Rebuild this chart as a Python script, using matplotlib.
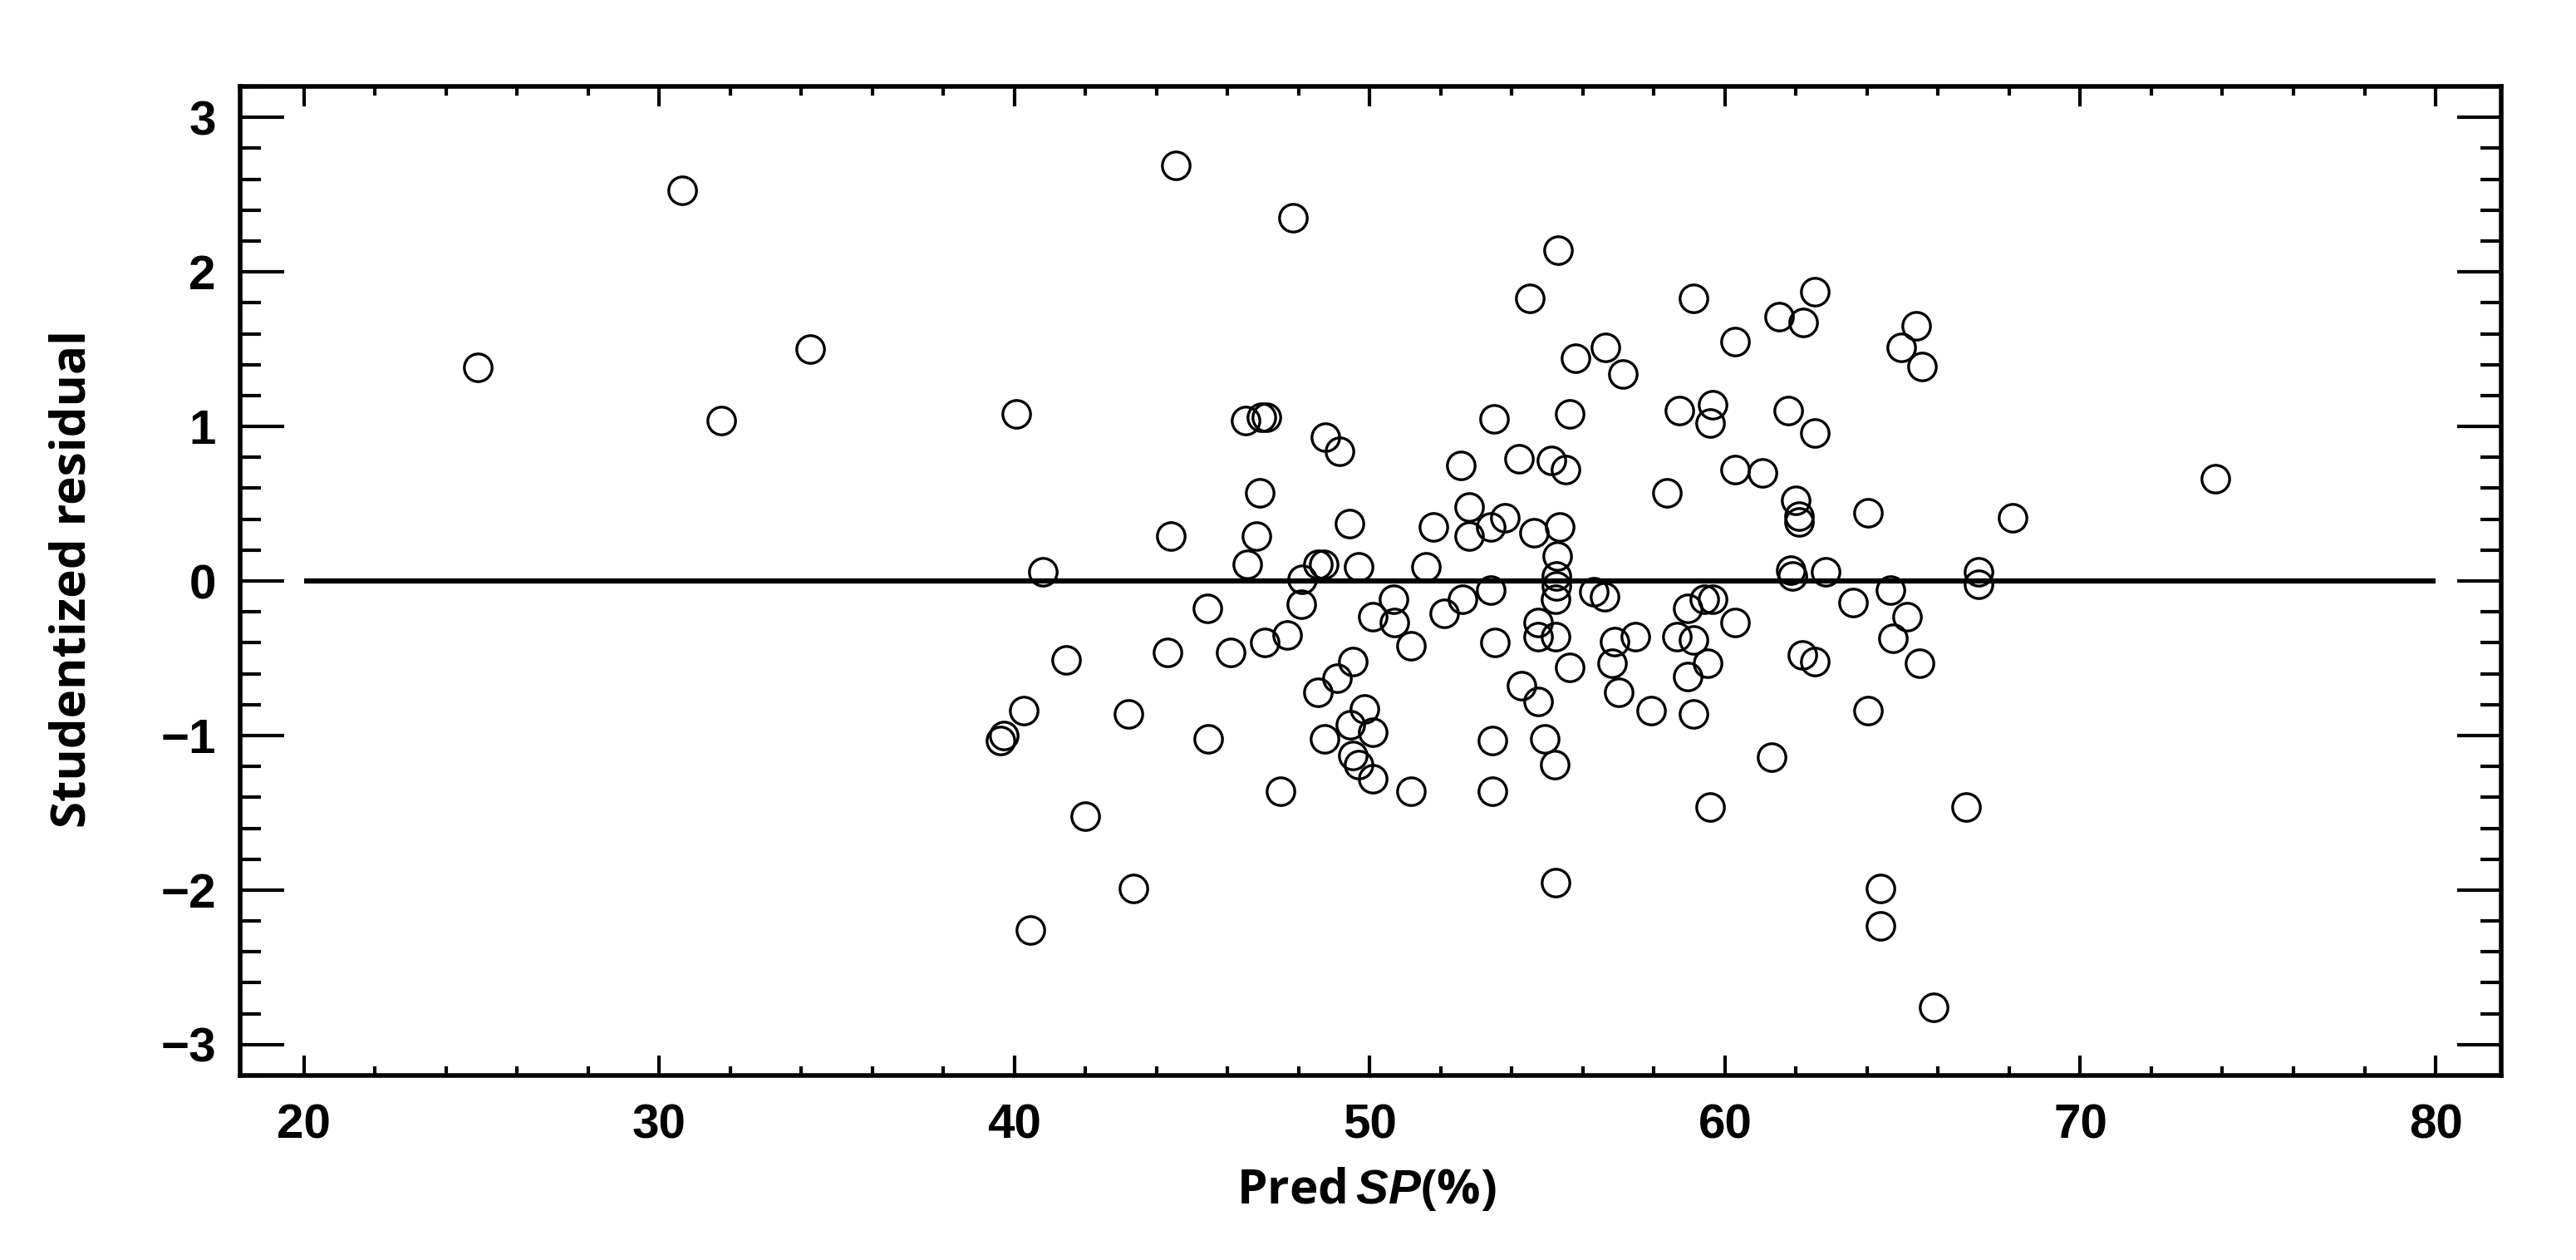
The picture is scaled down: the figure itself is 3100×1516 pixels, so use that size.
import matplotlib
matplotlib.use("Agg")  # pas d'affichage, on sauve seulement le fichier
import matplotlib.pyplot as plt
from matplotlib.ticker import MultipleLocator

# Valeurs : SP prédit (%) et résidu studentisé
pred_sp = [24.9, 30.65, 31.75, 34.25,
           39.6, 39.7, 40.05, 40.25, 40.45, 40.8, 41.45, 42.0, 43.2, 43.35,
           44.3, 44.4, 44.55, 45.42, 45.46, 46.08, 46.5, 46.55, 46.82, 46.9,
           46.95, 47.1, 47.05, 47.48, 47.67, 47.83, 48.06, 48.1, 48.55, 48.7,
           48.53, 48.72, 48.76, 49.07, 49.15, 49.42, 49.46, 49.53, 49.53, 49.69,
           49.69, 49.84, 50.08, 50.08, 50.08, 50.66, 50.7, 51.16, 51.16, 51.59,
           51.78, 52.09, 52.56, 52.6, 52.79, 52.79, 53.41, 53.41, 53.45, 53.45,
           53.49, 53.53, 53.8, 54.19, 54.27, 54.5, 54.62, 54.73, 54.73, 54.73,
           54.93, 55.12, 55.2, 55.24, 55.24, 55.24, 55.25, 55.25, 55.27, 55.31,
           55.35, 55.51, 55.62, 55.62, 55.8,
           56.3, 56.6, 56.63, 56.82, 56.9, 57.01, 57.13, 57.48, 57.91, 58.37,
           58.64, 58.72, 58.95, 58.95, 59.11, 59.11, 59.11, 59.42, 59.5, 59.57,
           59.57, 59.65, 59.65, 60.27, 60.27, 60.27, 61.05, 61.32, 61.51, 61.78,
           61.85, 61.9, 61.98, 62.09, 62.09, 62.17, 62.21, 62.52, 62.52, 62.52,
           62.83, 63.61, 64.03, 64.03, 64.37, 64.37, 64.65, 64.73, 64.96, 65.12,
           65.39, 65.47, 65.55, 65.88, 66.79, 67.14, 67.14, 68.09, 73.81]
residu = [1.38, 2.53, 1.04, 1.50,
          -1.03, -1.0, 1.08, -0.84, -2.26, 0.06, -0.51, -1.52, -0.86, -1.99,
          -0.46, 0.29, 2.69, -0.18, -1.02, -0.46, 1.04, 0.11, 0.29, 0.57,
          1.06, 1.06, -0.40, -1.36, -0.35, 2.35, -0.15, 0.01, 0.11, 0.11,
          -0.72, -1.02, 0.93, -0.63, 0.84, 0.37, -0.93, -0.52, -1.13, -1.19,
          0.09, -0.83, -0.23, -0.98, -1.28, -0.12, -0.27, -0.42, -1.36, 0.09,
          0.35, -0.21, 0.75, -0.12, 0.48, 0.29, 0.35, -0.06, -1.03, -1.36,
          1.05, -0.40, 0.41, 0.79, -0.68, 1.83, 0.31, -0.27, -0.36, -0.78,
          -1.02, 0.78, -1.19, -0.12, -0.36, -1.95, 0.03, -0.03, 0.16, 2.14,
          0.35, 0.72, 1.08, -0.56, 1.44,
          -0.07, -0.10, 1.51, -0.53, -0.39, -0.72, 1.34, -0.36, -0.84, 0.57,
          -0.36, 1.10, -0.18, -0.62, 1.83, -0.38, -0.86, -0.12, -0.53, 1.02,
          -1.46, 1.14, -0.12, 1.55, 0.72, -0.27, 0.70, -1.14, 1.71, 1.10,
          0.07, 0.03, 0.52, 0.42, 0.38, -0.48, 1.67, 1.87, 0.96, -0.52,
          0.06, -0.14, 0.44, -0.84, -1.99, -2.23, -0.06, -0.37, 1.51, -0.23,
          1.65, -0.53, 1.39, -2.76, -1.46, 0.06, -0.02, 0.41, 0.66]

# Graduations et ligne de référence (résidu nul entre 20 et 80)
x_ticks = [20, 30, 40, 50, 60, 70, 80]
y_ticks = [-3, -2, -1, 0, 1, 2, 3]
ligne_x = [20, 80]

plt.rcParams['mathtext.fontset'] = 'custom'
plt.rcParams['mathtext.it'] = 'Liberation Sans:italic:bold'

fig = plt.figure(figsize=(31, 15.16), dpi=100)
ax = fig.add_axes([0.0932, 0.1464, 0.8778, 0.785])

# Ligne horizontale à zéro puis les cercles vides
ax.hlines(0, ligne_x[0], ligne_x[1], color='black', lw=4.5, zorder=1)
ax.plot(pred_sp, residu, 'o', mfc='none', mec='black', ms=24, mew=2.4,
        linestyle='none', zorder=2)

ax.set_xlim(18.2, 81.85)
ax.set_ylim(-3.2, 3.2)
ax.set_xticks(x_ticks)
ax.set_yticks(y_ticks)
ax.xaxis.set_minor_locator(MultipleLocator(2))
ax.yaxis.set_minor_locator(MultipleLocator(0.2))

# Graduations tournées vers l'intérieur, sur les quatre côtés
ax.tick_params(axis='x', which='major', direction='in', length=17, width=3,
               top=True, bottom=True, pad=24, labelsize=42)
ax.tick_params(axis='x', which='minor', direction='in', length=8, width=3,
               top=True, bottom=True)
ax.tick_params(axis='y', which='major', direction='in', length=38, width=3,
               left=True, right=True, pad=21, labelsize=42)
ax.tick_params(axis='y', which='minor', direction='in', length=18, width=3,
               left=True, right=True)

for lbl in ax.get_xticklabels() + ax.get_yticklabels():
    lbl.set_fontfamily('Liberation Sans')
    lbl.set_fontweight('bold')

for sp in ax.spines.values():
    sp.set_linewidth(4)

# Titres des axes
ax.set_xlabel('Pred$\\,SP$(%)', fontsize=42, fontweight='bold',
              fontfamily='Open Sans', va='center')
ax.xaxis.set_label_coords(0.498, -0.117)
ax.set_ylabel('Studentized residual', fontsize=42, fontweight='bold',
              fontfamily='Open Sans', va='center')
ax.yaxis.set_label_coords(-0.0739, 0.502)

fig.savefig('out.png', dpi=100, facecolor='white')
